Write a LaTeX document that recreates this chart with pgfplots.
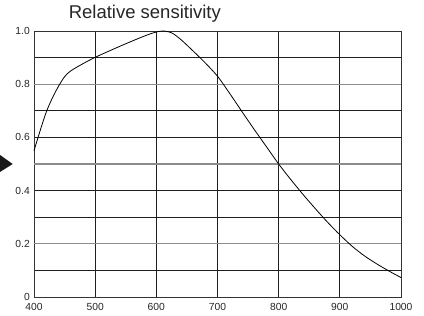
\documentclass[border=0pt]{standalone}
\usepackage{fontspec}
\setmainfont{Liberation Sans}
\usepackage{pgfplots}
\pgfplotsset{compat=1.18}
\begin{document}
\begin{tikzpicture}
\useasboundingbox (0,0) rectangle (424pt,316pt);
\begin{axis}[
  at={(34pt,19pt)}, anchor=south west,
  scale only axis, width=367pt, height=266pt,
  xmin=400, xmax=1000, ymin=0, ymax=1,
  xtick={400,500,...,1000},
  ytick={0,0.1,0.2,0.3,0.4,0.5,0.6,0.7,0.8,0.9,1.0},
  yticklabels={0,,0.2,,0.4,,0.6,,0.8,,1.0},
  extra y ticks={0.2,0.5,0.8},
  extra y tick labels={},
  extra y tick style={grid style={color=black!45, line width=1.3pt}},
  grid=major,
  grid style={color=black!88, line width=0.7pt},
  major tick length=0pt,
  axis line style={color=black!80, line width=0.9pt},
  /pgf/number format/assume math mode=true,
  /pgf/number format/1000 sep={},
  tick label style={font=\fontsize{10.3}{12}\selectfont, text=black!85},
  xticklabel style={inner sep=0pt, anchor=north, yshift=-6pt},
  yticklabel style={inner sep=0pt, anchor=east, xshift=-4pt},
  clip=false,
]
\addplot[black, line width=0.8pt, smooth, tension=0.5] coordinates {
(400,0.550) (410,0.625) (420,0.695) (430,0.748) (440,0.792) (450,0.828)
(460,0.850) (480,0.877) (500,0.901) (525,0.927) (550,0.952) (575,0.976)
(595,0.993) (610,1.000) (625,0.993) (640,0.968) (660,0.925) (680,0.880)
(700,0.830) (720,0.765) (740,0.697) (760,0.630) (780,0.565) (800,0.500)
(820,0.441) (840,0.385) (860,0.332) (880,0.281) (900,0.234) (920,0.191)
(940,0.155) (960,0.125) (980,0.098) (1000,0.073)
};
\fill[black!90] ([xshift=-34pt]axis cs:400,0.534) -- ([xshift=-21.3pt]axis cs:400,0.500) -- ([xshift=-34pt]axis cs:400,0.470) -- cycle;
\node[anchor=base, inner sep=0pt, font=\fontsize{18.5}{22}\selectfont, text=black!85] at ([yshift=12pt]rel axis cs:0.302,1) {Relative sensitivity};
\end{axis}
\end{tikzpicture}
\end{document}
